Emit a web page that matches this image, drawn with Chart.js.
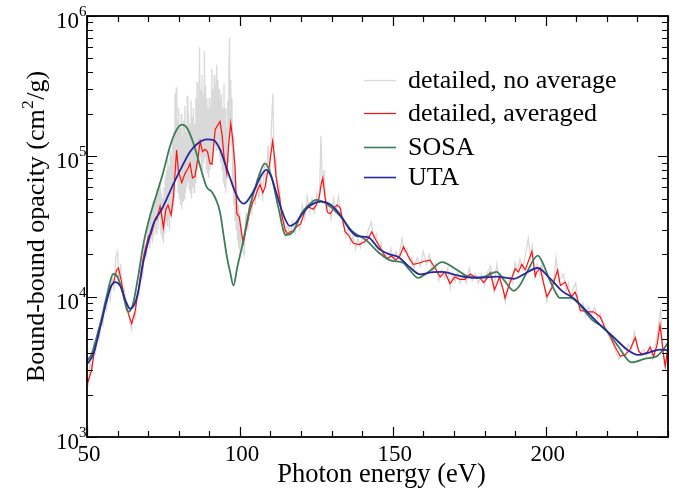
<!DOCTYPE html>
<html>
<head>
<meta charset="utf-8">
<script src="https://cdn.jsdelivr.net/npm/chart.js@4.4.1/dist/chart.umd.min.js"></script>
<style>
  html, body { margin: 0; padding: 0; background: #fff; }
  #wrap { width: 684px; height: 488px; }
</style>
</head>
<body>
<div id="wrap"><canvas id="chart"></canvas></div>
<script>
// photon energy (eV) / bound-bound opacity (cm2/g)
const uta_e = [50.0, 52.1, 54.3, 56.4, 58.0, 59.2, 61.0, 62.5, 64.1, 65.5, 66.8, 68.5, 70.7, 72.2, 74.2, 76.1, 78.2, 80.5, 83.7, 86.3, 89.2, 91.5, 93.5, 95.2, 96.8, 98.4, 100.0, 101.3, 103.0, 104.8, 106.8, 108.6, 110.2, 111.8, 114.1, 116.3, 118.5, 120.5, 122.6, 125.0, 126.5, 129.8, 133.3, 135.5, 138.3, 141.9, 145.4, 149.0, 151.9, 155.4, 159.0, 162.5, 166.1, 171.1, 175.4, 179.6, 183.9, 189.6, 192.5, 197.4, 201.0, 205.3, 209.5, 213.8, 218.1, 222.4, 226.6, 230.2, 233.8, 237.3, 240.0];
const uta_k = [3300, 3900, 6000, 9300, 12000, 12700, 11800, 9500, 8200, 8800, 11000, 18000, 28000, 35000, 41000, 50000, 63000, 80000, 108000, 124000, 132000, 130000, 112000, 88000, 70000, 56000, 48000, 46000, 50000, 58000, 72000, 80000, 72000, 56000, 39000, 32000, 34000, 39000, 44000, 47000, 47500, 45000, 37000, 31000, 27000, 26600, 22000, 20000, 19100, 16300, 14400, 14900, 15000, 14200, 13700, 13700, 13900, 13400, 14300, 16000, 13800, 11000, 9600, 7700, 6200, 5100, 4200, 3850, 4000, 4200, 4150];

const sosa_e = [50.0, 51.5, 53.0, 54.5, 56.4, 58.6, 60.0, 61.5, 63.5, 65.0, 66.5, 68.5, 70.5, 72.8, 75.0, 77.1, 79.0, 81.0, 82.8, 84.8, 87.0, 89.2, 90.8, 92.4, 93.5, 94.6, 95.8, 96.8, 97.9, 99.1, 101.1, 103.3, 105.8, 108.2, 110.3, 112.5, 115.0, 117.4, 120.1, 122.5, 125.0, 128.3, 132.6, 136.9, 141.2, 145.4, 149.7, 153.3, 155.5, 158.3, 160.5, 162.5, 166.1, 170.4, 174.6, 178.2, 181.0, 183.9, 186.5, 189.6, 191.5, 193.9, 197.4, 199.0, 201.0, 203.0, 204.6, 208.1, 211.0, 215.3, 219.5, 223.8, 228.1, 232.3, 236.6, 238.5, 240.0];
const sosa_k = [3500, 3900, 5000, 6600, 10000, 14500, 13800, 11000, 7800, 8800, 13000, 24000, 37000, 54000, 78000, 117000, 150000, 168000, 158000, 124000, 85000, 60000, 56000, 48000, 40000, 28000, 19000, 15000, 12000, 16000, 25000, 44000, 68000, 89000, 72000, 44000, 27500, 29000, 39000, 45000, 49000, 46000, 38000, 29000, 25400, 20600, 18000, 17500, 15500, 13600, 14400, 15500, 17600, 15800, 13900, 13600, 14200, 15000, 13000, 11000, 12000, 15000, 19600, 17500, 13600, 11000, 9800, 9800, 8800, 6800, 5900, 4400, 3400, 3600, 3800, 4200, 4700];

const avg_e = [50.0, 50.4, 51.5, 52.6, 53.8, 55.3, 56.4, 57.5, 58.6, 59.7, 60.3, 61.2, 62.2, 63.5, 64.6, 65.7, 66.8, 68.4, 70.1, 71.0, 72.2, 72.8, 73.9, 74.4, 75.0, 75.8, 76.5, 77.5, 78.3, 79.3, 79.9, 81.0, 82.0, 83.0, 83.7, 84.5, 85.3, 86.2, 87.0, 87.8, 88.6, 89.4, 90.2, 90.9, 91.9, 92.6, 93.5, 94.2, 94.8, 95.7, 96.3, 97.0, 97.6, 98.4, 99.0, 99.8, 100.6, 101.1, 102.0, 103.3, 104.2, 105.0, 105.8, 106.6, 107.5, 108.2, 108.8, 109.6, 110.3, 110.7, 111.3, 111.8, 113.1, 113.7, 114.8, 115.6, 116.5, 117.5, 118.6, 119.9, 121.3, 122.0, 123.0, 124.0, 125.0, 126.0, 126.6, 127.1, 127.8, 128.6, 129.5, 130.8, 131.8, 132.8, 133.6, 134.4, 135.5, 137.1, 139.0, 140.6, 142.0, 143.1, 144.6, 146.3, 148.0, 149.6, 151.0, 152.3, 153.5, 155.0, 156.6, 158.5, 160.0, 162.2, 163.8, 165.5, 167.0, 168.7, 170.3, 172.0, 173.6, 175.3, 177.4, 178.5, 179.7, 180.8, 181.8, 183.3, 184.9, 186.2, 186.7, 188.3, 190.0, 191.1, 192.2, 193.3, 195.5, 196.6, 197.1, 198.2, 199.3, 200.4, 202.0, 203.9, 204.8, 206.4, 207.5, 208.5, 209.6, 210.2, 211.3, 213.5, 215.6, 217.8, 219.4, 221.1, 222.7, 224.4, 226.0, 227.6, 229.3, 230.4, 231.5, 233.1, 234.2, 235.3, 236.4, 237.4, 238.5, 239.1, 240.0];
const avg_k = [2600, 2500, 3000, 4400, 5800, 7600, 9500, 11800, 12500, 15500, 16000, 13000, 9800, 7600, 6450, 7800, 11200, 19000, 27000, 28000, 35000, 35500, 44000, 38000, 31000, 42000, 45000, 38000, 52000, 111000, 78000, 65000, 75000, 82000, 89000, 70000, 72000, 95000, 128000, 108000, 112000, 108000, 89000, 88000, 155000, 165000, 177000, 140000, 100000, 76000, 120000, 172000, 135000, 85000, 39000, 37000, 28000, 24000, 30000, 41000, 47000, 51000, 58000, 63000, 55000, 60000, 72000, 85000, 110000, 128000, 100000, 72000, 49000, 38000, 30000, 28000, 29000, 29500, 31600, 33000, 41000, 44000, 43000, 42000, 45000, 52000, 64000, 70000, 52000, 40000, 39000, 43000, 45000, 43000, 35000, 29000, 27500, 24000, 23500, 24500, 26000, 29000, 25000, 21500, 18600, 19500, 18200, 19500, 22700, 19500, 17000, 17300, 17800, 18200, 16000, 13800, 15000, 12400, 13800, 13300, 13300, 14500, 13600, 13600, 12600, 13500, 14900, 11200, 13800, 11000, 9800, 12500, 15800, 15000, 17000, 15500, 21000, 14000, 15000, 16000, 12500, 10000, 11500, 15500, 12000, 12700, 11000, 10000, 10800, 10000, 8000, 7800, 7800, 7200, 6000, 5200, 4400, 3760, 3850, 4200, 5100, 4100, 3850, 4000, 4350, 3750, 4500, 6300, 3900, 3200, 4400];

const raw_e = [50.0, 50.5, 51.0, 51.6, 52.2, 52.8, 53.4, 54.0, 54.6, 55.2, 55.8, 56.4, 57.0, 57.6, 58.2, 58.8, 59.4, 60.0, 60.4, 61.0, 61.6, 62.2, 62.8, 63.4, 64.0, 64.6, 65.2, 65.8, 66.4, 67.0, 67.6, 68.2, 68.8, 69.4,
  70.0, 70.2, 70.4, 70.6, 70.8, 71.0, 71.2, 71.4, 71.6, 71.8, 72.0, 72.2, 72.4, 72.6, 72.8, 73.0, 73.2, 73.4, 73.6, 73.8, 74.0, 74.2, 74.4, 74.6, 74.8, 75.0, 75.2, 75.4, 75.6, 75.8, 76.0, 76.2, 76.4, 76.6, 76.8, 77.0, 77.2, 77.4, 77.6, 77.8, 78.0, 78.2, 78.4, 78.6, 78.8, 79.0, 79.2, 79.4, 79.6, 79.8,
  80.0, 80.2, 80.4, 80.6, 80.8, 81.0, 81.2, 81.4, 81.6, 81.8, 82.0, 82.2, 82.4, 82.6, 82.8, 83.0, 83.2, 83.4, 83.6, 83.8, 84.0, 84.2, 84.4, 84.6, 84.8, 85.0, 85.2, 85.4, 85.6, 85.8, 86.0, 86.2, 86.4, 86.6, 86.8, 87.0, 87.2, 87.4, 87.6, 87.8, 88.0, 88.2, 88.4, 88.6, 88.8, 89.0, 89.2, 89.4, 89.6, 89.8,
  90.0, 90.2, 90.4, 90.6, 90.8, 91.0, 91.2, 91.4, 91.6, 91.8, 92.0, 92.2, 92.4, 92.6, 92.8, 93.0, 93.2, 93.4, 93.6, 93.8, 94.0, 94.2, 94.4, 94.6, 94.8, 95.0, 95.2, 95.4, 95.6, 95.8, 96.0, 96.2, 96.4, 96.6, 96.8, 97.0, 97.2, 97.4, 97.6, 97.8, 98.0, 98.2, 98.4, 98.6, 98.8, 99.0, 99.2, 99.4, 99.6, 99.8, 100.0,
  100.4, 100.8, 101.4, 102.0, 102.6, 103.2, 103.8, 104.4, 105.0, 105.6, 106.2, 106.8, 107.4, 108.0, 108.6, 109.2, 109.8, 110.4, 110.8, 111.2, 111.8, 112.4, 113.0, 113.6, 114.2, 114.8, 115.6, 116.4, 117.2, 118.0, 118.8, 119.6, 120.4, 121.2, 122.0, 122.8, 123.6, 124.4, 125.2, 126.0, 126.5, 127.0, 127.6, 128.2, 129.0, 129.8, 130.6, 131.4, 132.2, 133.0, 133.8, 134.6, 135.4, 136.2, 137.0, 137.8, 138.6, 139.4, 140.2, 141.0, 142.0, 143.0, 143.8, 144.6, 145.4, 146.2, 147.0, 147.8, 148.6, 149.4, 150.2, 151.0, 152.0, 153.0, 153.8, 154.6, 155.4, 156.2, 157.0, 158.0, 159.0, 160.0, 161.0, 162.0, 163.0, 164.0, 165.0, 166.0, 167.0, 168.0, 168.8, 169.6, 170.4, 171.2, 172.0, 173.0, 174.0, 175.0, 176.0, 177.0, 178.0, 179.0, 180.0, 181.0, 182.0, 183.0, 184.0, 185.0, 186.0, 186.8, 187.6, 188.4, 189.2, 190.0, 190.8, 191.6, 192.4, 193.2, 194.3, 195.0, 195.6, 196.4, 197.2, 198.0, 198.8, 199.6, 200.4, 201.2, 202.0, 202.8, 203.4, 204.2, 205.0, 205.8, 206.6, 207.4, 208.2, 209.0, 209.8, 210.6, 211.4, 212.2, 213.0, 214.0, 215.0, 216.0, 217.0, 218.0, 219.0, 220.0, 221.0, 222.0, 223.0, 224.0, 225.0, 226.0, 227.0, 228.0, 229.0, 230.0, 231.0, 232.0, 233.0, 234.0, 235.0, 236.0, 237.0, 237.6, 238.2, 239.0, 239.5, 240.0];
const raw_k = [2700, 2400, 3400, 3000, 4500, 4000, 5600, 5000, 6800, 6200, 8600, 8000, 11000, 9500, 14000, 11000, 19000, 21000, 13000, 17000, 11000, 11500, 8000, 8500, 6500, 5800, 7500, 7000, 10500, 10000, 16000, 14000, 24000, 19000,
  32000, 24000, 36000, 22000, 40000, 26000, 42000, 24000, 48000, 27000, 45000, 30000, 52000, 28000, 58000, 34000, 55000, 30000, 65000, 36000, 60000, 28000, 55000, 26000, 50000, 24000, 60000, 28000, 72000, 34000, 80000, 32000, 95000, 36000, 85000, 30000, 110000, 38000, 100000, 40000, 130000, 45000, 150000, 50000, 280000, 90000, 310000, 70000, 180000, 55000,
  220000, 50000, 160000, 45000, 200000, 42000, 140000, 48000, 180000, 50000, 230000, 55000, 150000, 60000, 270000, 65000, 200000, 58000, 170000, 55000, 250000, 50000, 190000, 60000, 220000, 55000, 170000, 65000, 260000, 70000, 340000, 80000, 250000, 90000, 600000, 100000, 300000, 85000, 380000, 80000, 280000, 90000, 560000, 100000, 320000, 80000, 260000, 75000, 220000, 70000,
  260000, 80000, 230000, 90000, 420000, 100000, 300000, 110000, 380000, 120000, 330000, 110000, 450000, 130000, 350000, 110000, 300000, 100000, 260000, 90000, 280000, 80000, 220000, 65000, 330000, 60000, 220000, 55000, 160000, 70000, 250000, 90000, 400000, 700000, 140000, 350000, 120000, 260000, 60000, 140000, 45000, 110000, 35000, 70000, 30000, 55000, 25000, 45000, 22000, 40000, 21000,
  32000, 22000, 20000, 40000, 30000, 50000, 38000, 60000, 45000, 70000, 50000, 80000, 48000, 90000, 60000, 120000, 75000, 180000, 280000, 85000, 95000, 50000, 60000, 35000, 40000, 27000, 33000, 27000, 34000, 28000, 36000, 30000, 45000, 36000, 52000, 40000, 50000, 40000, 55000, 48000, 140000, 60000, 80000, 42000, 45000, 36000, 50000, 40000, 52000, 38000, 36000, 27000, 32000, 24000, 27000, 22000, 26000, 22500, 27000, 24000, 30000, 34000, 26000, 28000, 21000, 24000, 19000, 20000, 18000, 22000, 18000, 21000, 19000, 26000, 21000, 22000, 18000, 19000, 16000, 19000, 16500, 21000, 17000, 20000, 15000, 17000, 13000, 15500, 13500, 16000, 11500, 14500, 12800, 15000, 12500, 14500, 12500, 16000, 13000, 14500, 12500, 14500, 12000, 15000, 16500, 11000, 17000, 12500, 11500, 9200, 12000, 14000, 12500, 17500, 15000, 18500, 15500, 19000, 26000, 19000, 23000, 14000, 17000, 14500, 17500, 11500, 9200, 11000, 12000, 14000, 19000, 13000, 13500, 14500, 11000, 12500, 9500, 11500, 12500, 9000, 7800, 9000, 7300, 8500, 7400, 8400, 7000, 7600, 6000, 5600, 5000, 4600, 4000, 3600, 3900, 3700, 4600, 4200, 5600, 4400, 3900, 4200, 3800, 4500, 3600, 4600, 6500, 8300, 4500, 3100, 3600, 4600];

const x_major = [50, 100, 150, 200];
const y_decades = [3, 4, 5, 6];
const legend_labels = ["detailed, no average", "detailed, averaged", "SOSA", "UTA"];

function pts(xs, ys) {
  return xs.map((x, i) => ({x: x, y: ys[i]}));
}

const serif = "'Liberation Serif', 'Times New Roman', serif";

const frame_plugin = {
  id: 'frame',
  afterDatasetsDraw(chart) {
    const ctx = chart.ctx;
    const a = chart.chartArea;
    const xs = chart.scales.x;
    const ys = chart.scales.y;
    ctx.save();
    ctx.strokeStyle = '#000';
    ctx.lineWidth = 1.2;
    ctx.beginPath();
    // x ticks, bottom and top, inward
    for (let e = 50; e <= 240; e += 10) {
      const px = Math.round(xs.getPixelForValue(e)) + 0.5;
      const len = (e % 50 === 0) ? 10 : 6;
      ctx.moveTo(px, a.bottom); ctx.lineTo(px, a.bottom - len);
      ctx.moveTo(px, a.top); ctx.lineTo(px, a.top + len);
    }
    // y ticks, left and right, inward
    for (let d = 3; d <= 6; d++) {
      for (let m = 1; m <= 9; m++) {
        if (d === 6 && m > 1) break;
        const py = Math.round(ys.getPixelForValue(m * Math.pow(10, d))) + 0.5;
        const len = (m === 1) ? 10 : 6;
        ctx.moveTo(a.left, py); ctx.lineTo(a.left + len, py);
        ctx.moveTo(a.right, py); ctx.lineTo(a.right - len, py);
      }
    }
    ctx.stroke();
    ctx.lineWidth = 1.8;
    ctx.strokeRect(a.left, a.top, a.right - a.left, a.bottom - a.top);

    ctx.fillStyle = '#000';
    // x tick labels
    ctx.font = '23px ' + serif;
    ctx.textAlign = 'center';
    ctx.textBaseline = 'alphabetic';
    x_major.forEach(v => {
      ctx.fillText(String(v), xs.getPixelForValue(v) + 2, a.bottom + 24);
    });
    // y tick labels 10^n
    y_decades.forEach(d => {
      const py = ys.getPixelForValue(Math.pow(10, d));
      ctx.font = '23px ' + serif;
      ctx.textAlign = 'right';
      ctx.fillText('10', a.left - 8, py + 12);
      ctx.font = '15px ' + serif;
      ctx.textAlign = 'left';
      ctx.fillText(String(d), a.left - 8, py);
    });
    // axis titles
    ctx.font = '26.5px ' + serif;
    ctx.textAlign = 'center';
    ctx.fillText('Photon energy (eV)', (a.left + a.right) / 2 + 4, a.bottom + 45);

    ctx.save();
    ctx.translate(44, (a.top + a.bottom) / 2);
    ctx.rotate(-Math.PI / 2);
    const t1 = 'Bound-bound opacity (cm';
    const t2 = '2';
    const t3 = '/g)';
    ctx.font = '26px ' + serif;
    const w1 = ctx.measureText(t1).width;
    const w3 = ctx.measureText(t3).width;
    ctx.font = '17px ' + serif;
    const w2 = ctx.measureText(t2).width + 1;
    const start = -(w1 + w2 + w3) / 2;
    ctx.textAlign = 'left';
    ctx.font = '26px ' + serif;
    ctx.fillText(t1, start, 0);
    ctx.fillText(t3, start + w1 + w2, 0);
    ctx.font = '17px ' + serif;
    ctx.fillText(t2, start + w1 + 0.5, -11);
    ctx.restore();

    // legend, inside the plot
    const rows = [80, 113, 147, 177];
    const order = [3, 2, 1, 0];
    ctx.font = '26px ' + serif;
    ctx.textAlign = 'left';
    order.forEach((di, i) => {
      const ds = chart.data.datasets[di];
      ctx.strokeStyle = ds.borderColor;
      ctx.lineWidth = Math.min(ds.borderWidth, 1.6);
      ctx.beginPath();
      ctx.moveTo(364, rows[i] + 0.5);
      ctx.lineTo(396, rows[i] + 0.5);
      ctx.stroke();
      ctx.fillText(legend_labels[i], 408, rows[i] + 8);
    });
    ctx.restore();
  }
};

const ctx = document.getElementById('chart').getContext('2d');
const chart = new Chart(ctx, {
  type: 'line',
  data: {
    datasets: [
      {label: 'UTA', data: pts(uta_e, uta_k), borderColor: '#28289c', borderWidth: 1.8, cubicInterpolationMode: 'monotone'},
      {label: 'SOSA', data: pts(sosa_e, sosa_k), borderColor: '#3c7e58', borderWidth: 1.8, cubicInterpolationMode: 'monotone'},
      {label: 'detailed, averaged', data: pts(avg_e, avg_k), borderColor: '#ff1010', borderWidth: 1.2, tension: 0},
      {label: 'detailed, no average', data: pts(raw_e, raw_k), borderColor: '#d9d9d9', borderWidth: 1.3, tension: 0}
    ]
  },
  options: {
    responsive: true,
    maintainAspectRatio: false,
    animation: false,
    parsing: true,
    elements: {point: {radius: 0}},
    layout: {padding: {left: 87, right: 16, top: 16, bottom: 51}},
    plugins: {legend: {display: false}, tooltip: {enabled: false}},
    scales: {
      x: {type: 'linear', min: 50, max: 240, display: false},
      y: {type: 'logarithmic', min: 1000, max: 1000000, display: false}
    }
  },
  plugins: [frame_plugin]
});
</script>
</body>
</html>
